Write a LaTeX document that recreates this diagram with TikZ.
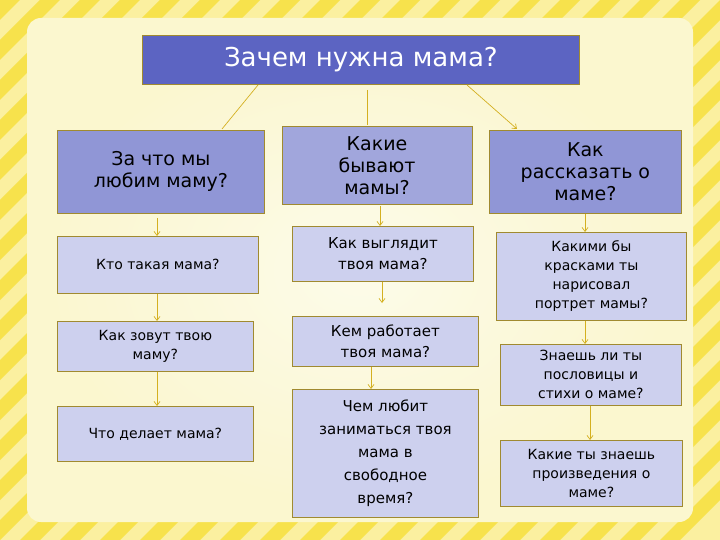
\documentclass[tikz,border=0pt]{standalone}
\usepackage{fontspec}
\setmainfont{DejaVu Sans}
\usetikzlibrary{arrows.meta}
\begin{document}
\begin{tikzpicture}[x=1pt,y=-1pt,
  box/.style={draw=boxborder,line width=0.8pt,align=center,inner sep=2pt,anchor=north west},
  lvl2/.style={box,fill=lvtwo,font=\fontsize{19}{22}\selectfont},
  lvl3/.style={box,fill=lvthree,font=\fontsize{14}{19}\selectfont},
  conn/.style={draw=linecol,line width=0.7pt},
  arr/.style={conn,-{Straight Barb[length=4pt,width=6pt]}}]
\definecolor{stripeA}{HTML}{F7E24C}
\definecolor{stripeB}{HTML}{FBF0A0}
\definecolor{panel}{HTML}{FBF7CF}
\definecolor{boxborder}{HTML}{A08A30}
\definecolor{titlecol}{HTML}{5C64C2}
\definecolor{lvtwo}{HTML}{9096D6}
\definecolor{lvthree}{HTML}{CDD0EE}
\definecolor{linecol}{HTML}{D4B020}
\useasboundingbox (0,0) rectangle (720,540);
\fill[stripeB] (0,0) rectangle (720,540);
\begin{scope}
\clip (0,0) rectangle (720,540);
\foreach \i in {-30,...,30}{
  \fill[stripeA] (\i*40,0) -- (\i*40+20,0) -- (\i*40+20-540,540) -- (\i*40-540,540) -- cycle;
}
\end{scope}
\fill[panel,rounded corners=14pt] (27,18) rectangle (693,522);
\shade[inner color=white!70!panel,outer color=panel,rounded corners=14pt,opacity=0.8] (40,30) rectangle (680,510);
\node[box,fill=titlecol,text=white,minimum width=437pt,minimum height=49pt,font=\fontsize{26}{30}\selectfont] (t) at (142,35) {Зачем нужна мама?};
\node[lvl2,minimum width=207pt,minimum height=83pt] (a) at (57,130) {За что мы\\любим маму?};
\node[lvl2,fill=lvtwo!85!white,minimum width=190pt,minimum height=78pt,anchor=north] (b) at (377,126) {Какие\\бывают\\мамы?};
\node[lvl2,minimum width=192pt,minimum height=83pt] (c) at (489,130) {Как\\рассказать о\\маме?};
\node[lvl3,minimum width=201pt,minimum height=57pt] (a1) at (57,236) {Кто такая мама?};
\node[lvl3,minimum width=196pt,minimum height=50pt] (a2) at (57,321) {Как зовут твою\\маму?};
\node[lvl3,minimum width=196pt,minimum height=55pt] (a3) at (57,406) {Что делает мама?};
\node[lvl3,minimum width=181pt,minimum height=55pt,font=\fontsize{15}{21}\selectfont] (b1) at (292,226) {Как выглядит\\твоя мама?};
\node[lvl3,minimum width=186pt,minimum height=50pt,font=\fontsize{15}{21}\selectfont] (b2) at (292,316) {Кем работает\\твоя мама?};
\node[lvl3,minimum width=186pt,minimum height=128pt,font=\fontsize{15}{23}\selectfont] (b3) at (292,389) {Чем любит\\заниматься твоя\\мама в\\свободное\\время?};
\node[lvl3,minimum width=190pt,minimum height=88pt] (c1) at (496,232) {Какими бы\\красками ты\\нарисовал\\портрет мамы?};
\node[lvl3,minimum width=181pt,minimum height=61pt] (c2) at (500,344) {Знаешь ли ты\\пословицы  и\\стихи о маме?};
\node[lvl3,minimum width=182pt,minimum height=66pt] (c3) at (500,440) {Какие ты знаешь\\произведения о\\маме?};
\coordinate (t1) at (258,85); \coordinate (t2) at (367,90); \coordinate (t3) at (467,85);
\coordinate (a0) at (222,129);\coordinate (b0) at (367,125);\coordinate (c0) at (517,129);
\draw[conn] (t1) -- (a0);
\draw[conn] (t2) -- (b0);
\draw[arr] (t3) -- (c0);
\draw[arr] (157,218) -- (a1.north -| 157,0);
\draw[arr] (a1.south -| 157,0) -- (a2.north -| 157,0);
\draw[arr] (a2.south -| 157,0) -- (a3.north -| 157,0);
\draw[arr] (380,206) -- (b1.north -| 380,0);
\draw[arr] (b1.south -| 382,0) -- (382,303);
\draw[arr] (b2.south -| 371,0) -- (b3.north -| 371,0);
\draw[arr] (c.south -| 585,0) -- (c1.north -| 585,0);
\draw[arr] (c1.south -| 585,0) -- (c2.north -| 585,0);
\draw[arr] (c2.south -| 590,0) -- (c3.north -| 590,0);
\end{tikzpicture}
\end{document}
